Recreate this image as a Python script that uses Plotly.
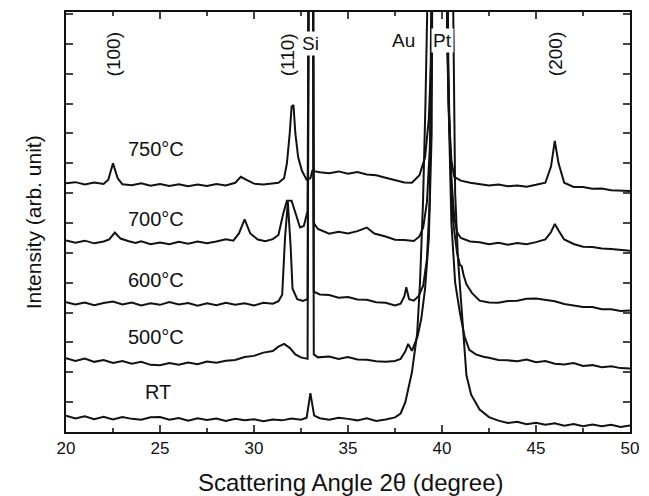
import plotly.graph_objects as go

# XRD patterns, intensity in arbitrary units (traces stacked with offsets)
x_rt = [20.0, 20.5, 21.0, 21.5, 22.0, 22.5, 23.0, 23.5, 24.0, 24.5, 25.0, 25.5, 26.0, 26.5, 27.0, 27.5,
        28.0, 28.5, 29.0, 29.5, 30.0, 30.5, 31.0, 31.5, 32.0, 32.5, 32.8, 33.0, 33.2, 33.5, 34.0, 34.5,
        35.0, 35.5, 36.0, 36.5, 37.0, 37.5, 37.8, 38.05, 38.4, 38.68, 38.83, 38.99, 39.12, 39.25, 39.35,
        40.0, 40.5, 40.62, 40.7, 40.85, 41.0, 41.15, 41.3, 41.55, 42.0, 42.5, 43.0, 43.5, 44.0, 44.5,
        45.0, 45.5, 46.0, 46.5, 47.0, 47.5, 48.0, 48.5, 49.0, 49.5, 50.0]
y_rt = [0.55, 0.45, 0.53, 0.43, 0.51, 0.42, 0.5, 0.44, 0.41, 0.49, 0.5, 0.41, 0.47, 0.38, 0.46, 0.4,
        0.45, 0.37, 0.44, 0.39, 0.43, 0.36, 0.42, 0.39, 0.45, 0.41, 0.48, 1.3, 0.55, 0.46, 0.41, 0.48,
        0.44, 0.39, 0.46, 0.37, 0.42, 0.49, 0.62, 1.0, 2.0, 3.3, 5.0, 7.7, 11.0, 14.0, 20.0,
        40.0, 20.0, 12.0, 8.0, 5.8, 4.5, 3.0, 1.9, 1.25, 0.75, 0.5, 0.38, 0.3, 0.34, 0.26,
        0.31, 0.24, 0.29, 0.21, 0.27, 0.19, 0.25, 0.19, 0.24, 0.17, 0.22]

x_500 = [20.0, 20.5, 21.0, 21.5, 22.0, 22.5, 23.0, 23.5, 24.0, 24.5, 25.0, 25.5, 26.0, 26.5, 27.0, 27.5,
         28.0, 28.5, 29.0, 29.5, 30.0, 30.5, 31.0, 31.3, 31.6, 31.9, 32.2, 32.5, 32.85, 32.93, 33.13, 33.18,
         33.4, 34.0, 34.5, 35.0, 35.5, 36.0, 36.5, 37.0, 37.5, 37.8, 38.05, 38.2, 38.4, 38.7, 38.9, 39.1,
         39.3, 39.45, 39.55, 40.2, 40.35, 40.5, 40.7, 40.95, 41.2, 41.45, 41.8, 42.2, 42.5, 43.0, 43.5,
         44.0, 44.5, 45.0, 45.5, 46.0, 46.5, 47.0, 47.5, 48.0, 48.5, 49.0, 49.5, 50.0]
y_500 = [2.47, 2.38, 2.46, 2.35, 2.41, 2.31, 2.38, 2.29, 2.35, 2.25, 2.24, 2.31, 2.25, 2.33, 2.27, 2.36,
         2.32, 2.39, 2.41, 2.51, 2.55, 2.66, 2.71, 2.86, 2.95, 2.82, 2.6, 2.5, 2.45, 20.0, 20.0, 2.6,
         2.5, 2.53, 2.45, 2.51, 2.43, 2.42, 2.37, 2.35, 2.38, 2.45, 2.7, 2.95, 2.72, 3.2, 3.8, 4.8,
         6.5, 10.0, 25.0, 25.0, 11.0, 7.0, 5.0, 4.0, 3.2, 2.75, 2.6, 2.52, 2.49, 2.41, 2.4,
         2.37, 2.43, 2.34, 2.38, 2.29, 2.26, 2.31, 2.21, 2.24, 2.17, 2.2, 2.14, 2.13]

x_600 = [20.0, 20.5, 21.0, 21.5, 22.0, 22.5, 23.0, 23.5, 24.0, 24.5, 25.0, 25.5, 26.0, 26.5, 27.0, 27.5,
         28.0, 28.5, 29.0, 29.5, 30.0, 30.5, 31.0, 31.3, 31.5, 31.65, 31.8, 31.95, 32.05, 32.3, 32.6, 32.85,
         32.93, 33.13, 33.18, 33.5, 34.0, 34.5, 35.0, 35.5, 36.0, 36.5, 37.0, 37.5, 37.8, 38.0, 38.1, 38.25,
         38.5, 38.75, 39.0, 39.2, 39.35, 39.45, 39.55, 40.2, 40.3, 40.45, 40.6, 40.8, 40.95, 41.05, 41.15,
         41.3, 41.6, 42.0, 42.5, 43.0, 43.5, 44.0, 44.5, 45.0, 45.5, 46.0, 46.5, 47.0, 47.5, 48.0, 48.5,
         49.0, 49.5, 50.0]
y_600 = [4.35, 4.27, 4.34, 4.25, 4.32, 4.37, 4.27, 4.34, 4.24, 4.31, 4.26, 4.35, 4.27, 4.32, 4.23, 4.31,
         4.25, 4.33, 4.26, 4.31, 4.24, 4.33, 4.3, 4.38, 4.6, 6.5, 7.7, 6.2, 4.8, 4.45, 4.39, 4.45,
         20.0, 20.0, 4.7, 4.61, 4.59, 4.5, 4.52, 4.44, 4.43, 4.35, 4.33, 4.24, 4.3, 4.55, 4.85, 4.45,
         4.4, 4.55, 4.9, 5.8, 7.8, 11.0, 25.0, 25.0, 13.0, 9.0, 7.0, 6.0, 5.6, 5.55, 5.25,
         4.95, 4.65, 4.4, 4.34, 4.33, 4.39, 4.4, 4.46, 4.47, 4.43, 4.38, 4.29, 4.25, 4.19, 4.19, 4.11,
         4.11, 4.05, 4.07]

x_700 = [20.0, 20.5, 21.0, 21.5, 22.0, 22.3, 22.6, 22.9, 23.3, 23.7, 24.0, 24.5, 25.0, 25.5, 26.0, 26.5,
         27.0, 27.5, 28.0, 28.5, 28.9, 29.2, 29.5, 29.8, 30.2, 30.6, 31.0, 31.3, 31.55, 31.75, 32.0, 32.2,
         32.45, 32.65, 32.85, 32.93, 33.13, 33.18, 33.4, 34.0, 34.5, 35.0, 35.5, 36.0, 36.4, 37.0, 37.5,
         38.0, 38.5, 38.8, 39.0, 39.2, 39.35, 39.45, 39.55, 40.2, 40.25, 40.35, 40.5, 40.65, 40.8, 41.0,
         41.5, 42.0, 42.5, 43.0, 43.5, 44.0, 44.5, 45.0, 45.5, 45.8, 46.0, 46.2, 46.5, 47.0, 47.5, 48.0,
         48.5, 49.0, 49.5, 50.0]
y_700 = [6.42, 6.34, 6.41, 6.32, 6.38, 6.45, 6.68, 6.48, 6.4, 6.33, 6.39, 6.29, 6.35, 6.29, 6.37, 6.31,
         6.38, 6.32, 6.38, 6.46, 6.41, 6.65, 7.12, 6.65, 6.45, 6.39, 6.46, 6.6, 7.3, 7.75, 7.75, 7.35,
         6.85, 6.9, 7.4, 20.0, 20.0, 7.0, 6.8, 6.64, 6.71, 6.65, 6.73, 6.85, 6.65, 6.55, 6.44,
         6.43, 6.4, 6.55, 6.85, 7.7, 9.5, 12.0, 25.0, 25.0, 15.0, 11.0, 8.5, 7.2, 6.7, 6.5,
         6.38, 6.36, 6.29, 6.34, 6.27, 6.33, 6.29, 6.36, 6.45, 6.7, 6.97, 6.75, 6.45, 6.3, 6.21, 6.2,
         6.15, 6.13, 6.09, 6.07]

x_750 = [20.0, 20.5, 21.0, 21.5, 22.0, 22.25, 22.5, 22.75, 23.0, 23.5, 24.0, 24.5, 25.0, 25.5, 26.0, 26.5,
         27.0, 27.5, 28.0, 28.5, 29.0, 29.3, 29.6, 30.0, 30.5, 31.0, 31.3, 31.6, 31.75, 31.9, 32.0, 32.1,
         32.2, 32.35, 32.55, 32.8, 33.0, 33.1, 33.5, 34.0, 34.5, 35.0, 35.5, 36.0, 36.5, 37.0, 37.5, 38.0,
         38.4, 38.8, 39.1, 39.3, 39.45, 39.55, 40.2, 40.27, 40.38, 40.5, 40.65, 41.0, 41.5, 42.0, 42.5,
         43.0, 43.5, 44.0, 44.5, 45.0, 45.5, 45.8, 46.0, 46.2, 46.5, 47.0, 47.5, 48.0, 48.5, 49.0, 49.5, 50.0]
y_750 = [8.33, 8.37, 8.29, 8.36, 8.31, 8.45, 9.0, 8.5, 8.3, 8.27, 8.33, 8.25, 8.31, 8.24, 8.3, 8.23,
         8.29, 8.24, 8.31, 8.26, 8.35, 8.55, 8.45, 8.32, 8.29, 8.34, 8.35, 8.5, 9.0, 10.0, 10.9, 10.95,
         10.0, 9.2, 8.75, 8.45, 8.5, 8.75, 8.7, 8.67, 8.73, 8.65, 8.71, 8.63, 8.6, 8.52, 8.45, 8.36,
         8.35, 8.6, 9.2, 10.5, 13.0, 25.0, 25.0, 13.0, 10.5, 9.1, 8.55, 8.42, 8.35, 8.3, 8.26,
         8.29, 8.23, 8.26, 8.22, 8.28, 8.35, 8.9, 9.75, 9.0, 8.35, 8.21, 8.21, 8.15, 8.16, 8.1, 8.09, 8.07]

series = [("RT", x_rt, y_rt), ("500°C", x_500, y_500), ("600°C", x_600, y_600),
          ("700°C", x_700, y_700), ("750°C", x_750, y_750)]

# label positions (angle, intensity) for the temperature tags
temp_labels = ["750°C", "700°C", "600°C", "500°C", "RT"]
temp_x = [24.8, 24.8, 24.8, 24.8, 24.9]
temp_y = [9.47, 7.13, 5.1, 3.17, 1.33]

peak_labels = ["(100)", "(110)", "(200)"]
peak_x = [22.5, 31.75, 46.05]

font = "Liberation Sans, Arial, sans-serif"

fig = go.Figure()
for name, xs, ys in series:
    fig.add_trace(go.Scatter(x=xs, y=ys, mode="lines", name=name,
                             line=dict(color="#111111", width=2), showlegend=False))

for t, tx, ty in zip(temp_labels, temp_x, temp_y):
    fig.add_annotation(x=tx, y=ty, text=t, showarrow=False, font=dict(size=20, color="#111", family=font))

for t, px_ in zip(peak_labels, peak_x):
    fig.add_annotation(x=px_, y=12.65, text=t, textangle=-90, showarrow=False,
                       font=dict(size=19, color="#111", family=font))

fig.add_annotation(x=33.0, y=13.0, text="Si", showarrow=False, bgcolor="white", borderpad=1,
                   font=dict(size=19, color="#111", family=font))
fig.add_annotation(x=37.95, y=13.1, text="Au", showarrow=False,
                   font=dict(size=19, color="#111", family=font))
fig.add_annotation(x=40.05, y=13.1, text="Pt", showarrow=False, bgcolor="white", borderpad=1,
                   font=dict(size=19, color="#111", family=font))

fig.add_annotation(xref="paper", yref="paper", x=-0.058, y=0.5, xanchor="center", yanchor="middle",
                   text="Intensity (arb. unit)", textangle=-90, showarrow=False,
                   font=dict(size=21, color="#111", family=font))
fig.add_annotation(xref="paper", yref="paper", x=0.505, y=-0.12, xanchor="center", yanchor="middle",
                   text="Scattering Angle 2θ (degree)", showarrow=False,
                   font=dict(size=24, color="#111", family=font))

fig.update_xaxes(range=[20, 50], dtick=5, tick0=20, ticks="inside", ticklen=7, tickwidth=2,
                 minor=dict(ticks="inside", dtick=2.5, tick0=20, ticklen=4, tickwidth=2),
                 showline=True, linewidth=2, linecolor="#111", mirror="ticks", showgrid=False,
                 zeroline=False, tickfont=dict(size=17, color="#111", family=font))
fig.update_yaxes(range=[0, 14.07], dtick=1, tick0=0, ticks="inside", ticklen=7, tickwidth=2,
                 showticklabels=False, showline=True, linewidth=2, linecolor="#111", mirror="ticks",
                 showgrid=False, zeroline=False)

fig.update_layout(width=649, height=496, plot_bgcolor="white", paper_bgcolor="white",
                  margin=dict(l=66, r=11, t=10, b=64), font=dict(family=font))

# drop the default page margin so the figure sits at the window's corner
fig.write_html("out.html", config={"displayModeBar": False},
               post_script="document.body.style.margin='0';")
